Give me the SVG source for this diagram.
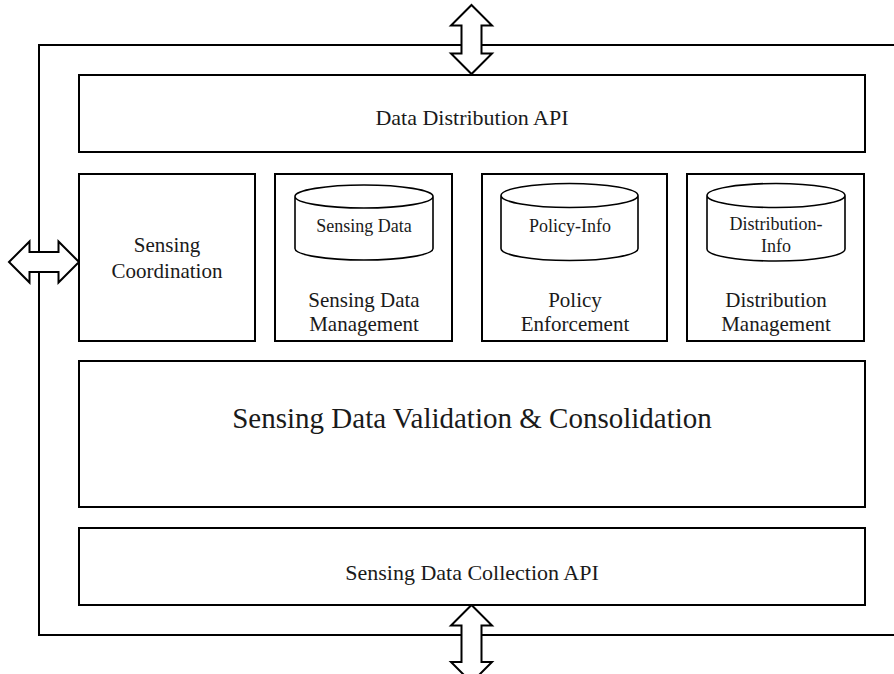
<svg xmlns="http://www.w3.org/2000/svg" width="894" height="674" viewBox="0 0 894 674">
<style>
.box{fill:#fff;stroke:#000;stroke-width:2}
.frame{fill:none;stroke:#000;stroke-width:2}
.arrow{fill:#fff;stroke:#000;stroke-width:2;stroke-linejoin:miter}
.cyl{fill:#fff;stroke:#000;stroke-width:1.6}
text{font-family:"Liberation Serif","Times New Roman",serif;fill:#1a1a1a;text-anchor:middle}
.lbl{font-size:22px}
.lbl2{font-size:21px}
.small{font-size:18px}
.big{font-size:29px}
</style>
<rect width="894" height="674" fill="#fff"/>
<g id="connectors">
<path class="frame" d="M895,45 H39 V635 H895"/>
<polygon class="arrow" points="471.5,5 492,25.5 481.5,25.5 481.5,53.5 492,53.5 471.5,74 451,53.5 461.5,53.5 461.5,25.5 451,25.5"/>
<polygon class="arrow" points="471.5,605 492,625.5 481.5,625.5 481.5,662 492,662 471.5,682.5 451,662 461.5,662 461.5,625.5 451,625.5"/>
<polygon class="arrow" points="9,262 29.5,241.5 29.5,252 58.5,252 58.5,241.5 79,262 58.5,282.5 58.5,272 29.5,272 29.5,282.5"/>
</g>
<g id="data-distribution-api">
<rect class="box" x="79" y="75" width="786" height="77"/>
<text class="lbl" x="472" y="125">Data Distribution API</text>
</g>
<g id="sensing-coordination">
<rect class="box" x="79" y="174" width="176" height="167"/>
<text class="lbl2" x="167" y="252">Sensing</text>
<text class="lbl2" x="167" y="278">Coordination</text>
</g>
<g id="sensing-data-management">
<rect class="box" x="275" y="174" width="177" height="167"/>
<path class="cyl" d="M295,196.5 V248.5 A69,11.5 0 0 0 433,248.5 V196.5 A69,11.5 0 0 0 295,196.5 A69,11.5 0 0 0 433,196.5"/>
<text class="small" x="364" y="232">Sensing Data</text>
<text class="lbl2" x="364" y="307">Sensing Data</text>
<text class="lbl2" x="364" y="331">Management</text>
</g>
<g id="policy-enforcement">
<rect class="box" x="482" y="174" width="185" height="167"/>
<path class="cyl" d="M501,195.5 V248.5 A68.5,12 0 0 0 638,248.5 V195.5 A68.5,12 0 0 0 501,195.5 A68.5,12 0 0 0 638,195.5"/>
<text class="small" x="570" y="232">Policy-Info</text>
<text class="lbl2" x="575" y="307">Policy</text>
<text class="lbl2" x="575" y="331">Enforcement</text>
</g>
<g id="distribution-management">
<rect class="box" x="687" y="174" width="177" height="167"/>
<path class="cyl" d="M707,195.5 V249 A69,12 0 0 0 845,249 V195.5 A69,12 0 0 0 707,195.5 A69,12 0 0 0 845,195.5"/>
<text class="small" x="776" y="230">Distribution-</text>
<text class="small" x="776" y="252">Info</text>
<text class="lbl2" x="776" y="307">Distribution</text>
<text class="lbl2" x="776" y="331">Management</text>
</g>
<g id="validation-consolidation">
<rect class="box" x="79" y="361" width="786" height="146"/>
<text class="big" x="472" y="428">Sensing Data Validation &amp; Consolidation</text>
</g>
<g id="data-collection-api">
<rect class="box" x="79" y="528" width="786" height="77"/>
<text class="lbl" x="472" y="580">Sensing Data Collection API</text>
</g>
</svg>
